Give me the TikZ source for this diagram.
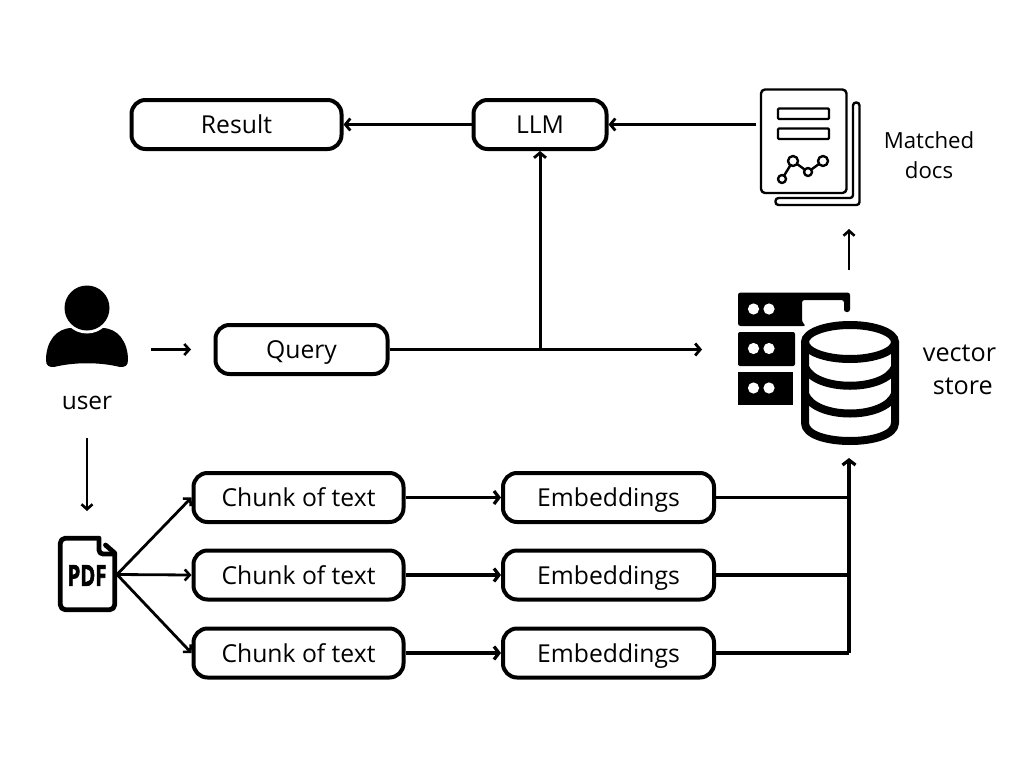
\documentclass[tikz,border=0pt]{standalone}
\usepackage{fontspec}
\setmainfont{Open Sans}
\newfontfamily\pdffont[BoldFeatures={FakeBold=2.5}]{Open Sans}
\usetikzlibrary{arrows.meta}
\tikzset{
  x=1pt,y=-1pt,
  boxnode/.style={draw=black,line width=4pt,rounded corners=14pt,minimum height=49pt,inner sep=0pt,text height=18pt,text depth=0pt,font=\fontsize{24.7}{28}\selectfont},
  lab/.style={inner sep=0pt,align=center,font=\fontsize{24.5}{32}\selectfont},
  conn/.style={line width=3pt,-{Straight Barb[length=5pt,width=12pt,line width=2.8pt]}},
  heavy conn/.style={line width=3.6pt,-{Straight Barb[length=5pt,width=13pt,line width=3.2pt]}},
  thin conn/.style={line width=2.8pt,-{Straight Barb[length=5pt,width=11pt,line width=2.6pt]}},
  plain/.style={line width=3.2pt},
  iconline/.style={line width=2.4pt,line join=round}
}
\begin{document}
\begin{tikzpicture}
\useasboundingbox (0,0) rectangle (1024,768);
\fill[white] (0,0) rectangle (1024,768);
% boxes
\node[boxnode,minimum width=210pt] (result) at (236.5,124.5) {Result};
\node[boxnode,minimum width=133pt] (llm) at (540,124.5) {LLM};
\node[boxnode,minimum width=172pt] (query) at (301.5,349.5) {Query};
\node[boxnode,minimum width=210pt] (c1) at (298.5,497.5) {Chunk of text};
\node[boxnode,minimum width=210pt] (c2) at (298.5,575) {Chunk of text};
\node[boxnode,minimum width=210pt] (c3) at (298.5,653) {Chunk of text};
\node[boxnode,minimum width=211pt] (e1) at (608.5,497.5) {Embeddings};
\node[boxnode,minimum width=211pt] (e2) at (608.5,575) {Embeddings};
\node[boxnode,minimum width=211pt] (e3) at (608.5,653) {Embeddings};
% labels
\node[lab] (ulab) at (87,403) {user};
\node[lab,font=\fontsize{22.2}{30}\selectfont] (mlab) at (929,155.5) {Matched\\docs};
\node[lab,font=\fontsize{25.2}{33}\selectfont] (vlab) at (959.5,370) {vector\\\ store};
% hooks on the icons
\coordinate (docsW) at (756,124.5);
\coordinate (docsS) at (849,229);
\coordinate (storeN) at (849,270);
\coordinate (storeW) at (702,349.5);
\coordinate (storeS) at (849,458);
\coordinate (userE) at (151,349.5);
\coordinate (queryW) at (191,349.5);
\coordinate (userS) at (87,438);
\coordinate (pdfN) at (87,511);
\coordinate (pdfE) at (117,574.5);
\coordinate (junc) at (540,349.5);
\coordinate (j1) at (849,497.5);
\coordinate (j2) at (849,575);
\coordinate (j3) at (849,653);
% connectors
\draw[conn] (llm) -- (result);
\draw[conn] (docsW) -- (llm);
\draw[conn] (junc) -- (llm);
\draw[conn] (query) -- (storeW);
\draw[thin conn] (userE) -- (queryW);
\draw[thin conn] (userS) -- (pdfN);
\draw[thin conn] (storeN) -- (docsS);
\draw[thin conn] (pdfE) -- (c1.west);
\draw[thin conn] (pdfE) -- (c2.west);
\draw[thin conn] (pdfE) -- (c3.west);
\draw[heavy conn] (c1) -- (e1);
\draw[heavy conn] (c2) -- (e2);
\draw[heavy conn] (c3) -- (e3);
\draw[plain] (e1) -- (j1);
\draw[plain] (e2) -- (j2);
\draw[plain] (e3) -- (j3);
\draw[line width=3.4pt,-{Straight Barb[length=5pt,width=13pt,line width=3.2pt]}] (j3) -- (storeS);
% user icon
\fill[black] (46,360) .. controls (46,342) and (56,328) .. (72,328) -- (102,328)
  .. controls (118,328) and (128,342) .. (128,360)
  .. controls (128,366) and (125,367) .. (120,367)
  .. controls (100,362) and (74,362) .. (54,367)
  .. controls (49,367) and (46,366) .. (46,360) -- cycle;
\fill[white] (87,308) circle (25.5);
\fill[black] (87,308) circle (22.5);
% pdf icon
\draw[line width=4.8pt,line join=round,rounded corners=5pt] (99,538.2) -- (60.3,538.2) -- (60.3,609.7) -- (114.7,609.7) -- (114.7,553);
\draw[line width=4.8pt,line join=round,line cap=round,rounded corners=4pt] (99,538.2) -- (99,554) -- (114.7,554);
\draw[line width=4.8pt,line cap=round] (105.5,545) -- (114.7,553);
\node[inner sep=0pt,xscale=.7,font=\fontsize{29}{29}\selectfont\pdffont\bfseries] (pdftext) at (87,575.5) {PDF};
% documents icon
\draw[iconline,rounded corners=3pt] (853,102.5) -- (859.5,102.5) -- (859.5,205) -- (775.5,205) -- (775.5,198) -- (853,198) -- cycle;
\draw[iconline,fill=white,rounded corners=4pt] (761,89.5) rectangle (846.5,193);
\draw[iconline,rounded corners=1pt] (778,108.5) rectangle (829,119);
\draw[iconline,rounded corners=1pt] (778,128.5) rectangle (829,139);
\draw[iconline] (782,179) -- (793,161) -- (808,172) -- (823,161);
\foreach \cx/\cy/\r in {782/179/4,793/161/5,808/172/4,823/161/5}{
  \draw[iconline,fill=white] (\cx,\cy) circle (\r);
}
% vector store icon
\fill[black,rounded corners=2.5pt] (738,326) -- (738,292.5) -- (850,292.5) -- (850,312) -- (844,312) -- (844,300) -- (802,300) -- (802,322) -- (806,326) -- cycle;
\fill[black,rounded corners=2pt] (738,366) -- (738,332) -- (795,332) -- (795,366) -- cycle;
\fill[black] (738,405) -- (738,372) -- (793,372) -- (793,405) -- cycle;
\foreach \ry in {309,348.5,388}{
  \fill[white] (753.5,\ry) circle (5.6);
  \fill[white] (769,\ry) circle (5.6);
}
\draw[white,line width=14pt,fill=white] (805,342) .. controls (805,319) and (895,319) .. (895,342) -- (895,423) .. controls (895,447) and (805,447) .. (805,423) -- cycle;
\draw[line width=8pt,fill=white] (850,342) ellipse (45 and 17);
\draw[line width=8pt,line join=round] (805,342) -- (805,423) .. controls (805,447) and (895,447) .. (895,423) -- (895,342);
\draw[line width=8pt] (805,367) .. controls (815,392) and (885,392) .. (895,367);
\draw[line width=8pt] (805,394) .. controls (815,420) and (885,420) .. (895,394);
\end{tikzpicture}
\end{document}
